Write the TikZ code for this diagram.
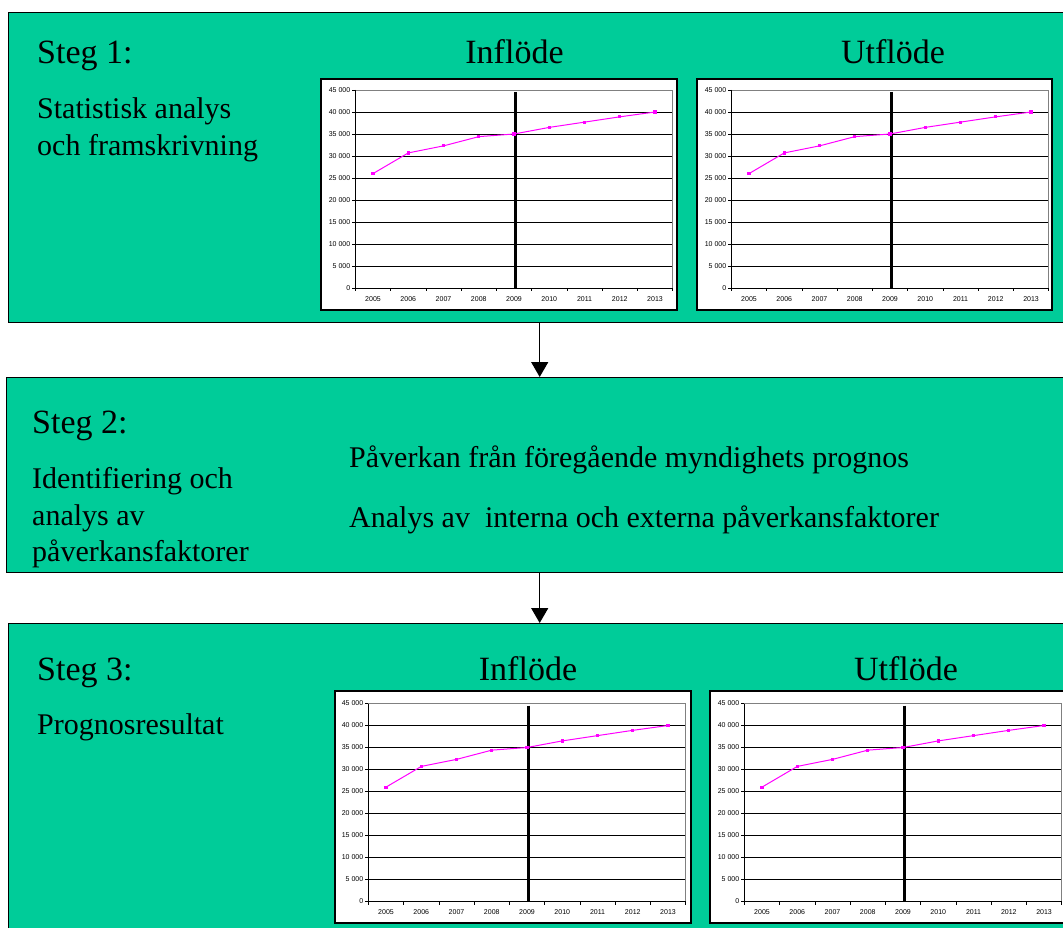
\documentclass[tikz,border=0pt]{standalone}
\usepackage{fontspec}
\setmainfont{Liberation Serif}
\newfontfamily\chartfont{Liberation Sans}
\usetikzlibrary{arrows.meta}
\definecolor{stepgreen}{HTML}{00CC99}
\definecolor{datamag}{HTML}{FF00FF}
\tikzset{
  stepbox/.style={draw=black,line width=1.4pt,fill=stepgreen,anchor=north west,inner sep=0pt},
  big/.style={font=\fontsize{34}{40}\selectfont,inner sep=0pt,anchor=base west},
  body/.style={font=\fontsize{30}{37}\selectfont,inner sep=0pt,anchor=base west},
  ttl/.style={font=\fontsize{34}{40}\selectfont,inner sep=0pt,anchor=base},
  arr/.style={line width=1.3pt,-{Triangle[width=17pt,length=15pt]}},
  gridln/.style={black,line width=0.7pt},
  axisln/.style={black,line width=0.8pt},
  lbl/.style={font=\chartfont\fontsize{7}{8}\selectfont,inner sep=0pt},
  frame/.style={fill=white,draw=black,line width=1.2pt},
}
\newcommand{\mychart}[7]{%
  % #1 name, #2 frame left, #3 frame top, #4 frame right, #5 frame bottom, #6 plot left, #7 plot top
  \begin{scope}
  \def\chL{#6}\def\chT{#7}
  \fill[frame] (#2,#3) rectangle (#4,#5);
  \foreach \k in {1,...,8} { \draw[gridln] (\chL,{\chT+\k*22}) -- ++(317.25,0); }
  \draw[gray,line width=0.6pt] (\chL,\chT) -- ++(317.25,0) -- ++(0,198);
  \draw[axisln] (\chL,\chT) -- (\chL,\chT+198) -- ++(317.25,0);
  \foreach \k in {0,...,9} { \draw[axisln] ({\chL+\k*35.25},\chT+198) -- ++(0,3); }
  \foreach \k in {0,...,9} { \draw[axisln] (\chL,{\chT+\k*22}) -- ++(-3,0); }
  \foreach \v [count=\k from 0] in {45 000,40 000,35 000,30 000,25 000,20 000,15 000,10 000,5 000,0}
    { \node[lbl,anchor=east] (#1y\k) at (\chL-5,{\chT+\k*22}) {\v}; }
  \foreach \yr [count=\k from 0] in {2005,2006,2007,2008,2009,2010,2011,2012,2013}
    { \node[lbl] (#1x\k) at ({\chL+(\k+0.5)*35.25},\chT+209) {\yr}; }
  \draw[black,line width=3pt] ({\chL+4.5*35.25+1.5},\chT+2) -- ({\chL+4.5*35.25+1.5},\chT+198);
  \foreach \v [count=\k from 0] in {26.0,30.7,32.3,34.4,35.0,36.5,37.7,38.9,40.0}
    { \coordinate (#1p\k) at ({\chL+(\k+0.5)*35.25},{\chT+198-\v*4.4}); }
  \draw[datamag,line width=1pt] (#1p0) -- (#1p1) -- (#1p2) -- (#1p3) -- (#1p4) -- (#1p5) -- (#1p6) -- (#1p7) -- (#1p8);
  \foreach \k in {0,...,8} { \fill[datamag] (#1p\k) ++(-1.6,-1.6) rectangle ++(3.2,3.2); }
  \end{scope}}
\begin{document}
\begin{tikzpicture}[x=1pt,y=-1pt]
\useasboundingbox (0,0) rectangle (1063,928);
\clip (0,0) rectangle (1063,928);
\fill[white] (0,0) rectangle (1063,928);
% boxes
\node[stepbox,minimum width=1062pt,minimum height=310pt] (box1) at (8,12) {};
\node[stepbox,minimum width=1066pt,minimum height=195pt] (box2) at (6,377) {};
\node[stepbox,minimum width=1062pt,minimum height=330pt] (box3) at (8,623) {};
\draw[arr] (box1.south) -- (box2.north);
\draw[arr] (box2.south) -- (box3.north);
% step 1
\node[big] (s1) at (37,64) {Steg 1:};
\node[body] (s1a) at (37,119) {Statistisk analys};
\node[body] (s1b) at (37,156) {och framskrivning};
\node[ttl] (t1) at (514.5,64) {Inflöde};
\node[ttl] (t2) at (893,64) {Utflöde};
\mychart{ca}{321}{79}{677}{310}{355.4}{90}
\mychart{cb}{697}{79}{1052}{310}{731.4}{90}
% step 2
\node[big] (s2) at (32,433) {Steg 2:};
\node[body] (s2a) at (32,488) {Identifiering och};
\node[body] (s2b) at (32,525) {analys av};
\node[body] (s2c) at (32,561) {påverkansfaktorer};
\node[body] (s2d) at (349,467) {Påverkan från föregående myndighets prognos};
\node[body] (s2e) at (349,527) {Analys av\hspace{0.25em} interna och externa påverkansfaktorer};
% step 3
\node[big] (s3) at (37,680) {Steg 3:};
\node[body] (s3a) at (37,734) {Prognosresultat};
\node[ttl] (t3) at (528,680) {Inflöde};
\node[ttl] (t4) at (906,680) {Utflöde};
\mychart{cc}{335}{691}{691}{923}{368.4}{703.5}
\mychart{cd}{710}{691}{1075}{923}{744.4}{703.5}
\end{tikzpicture}
\end{document}
